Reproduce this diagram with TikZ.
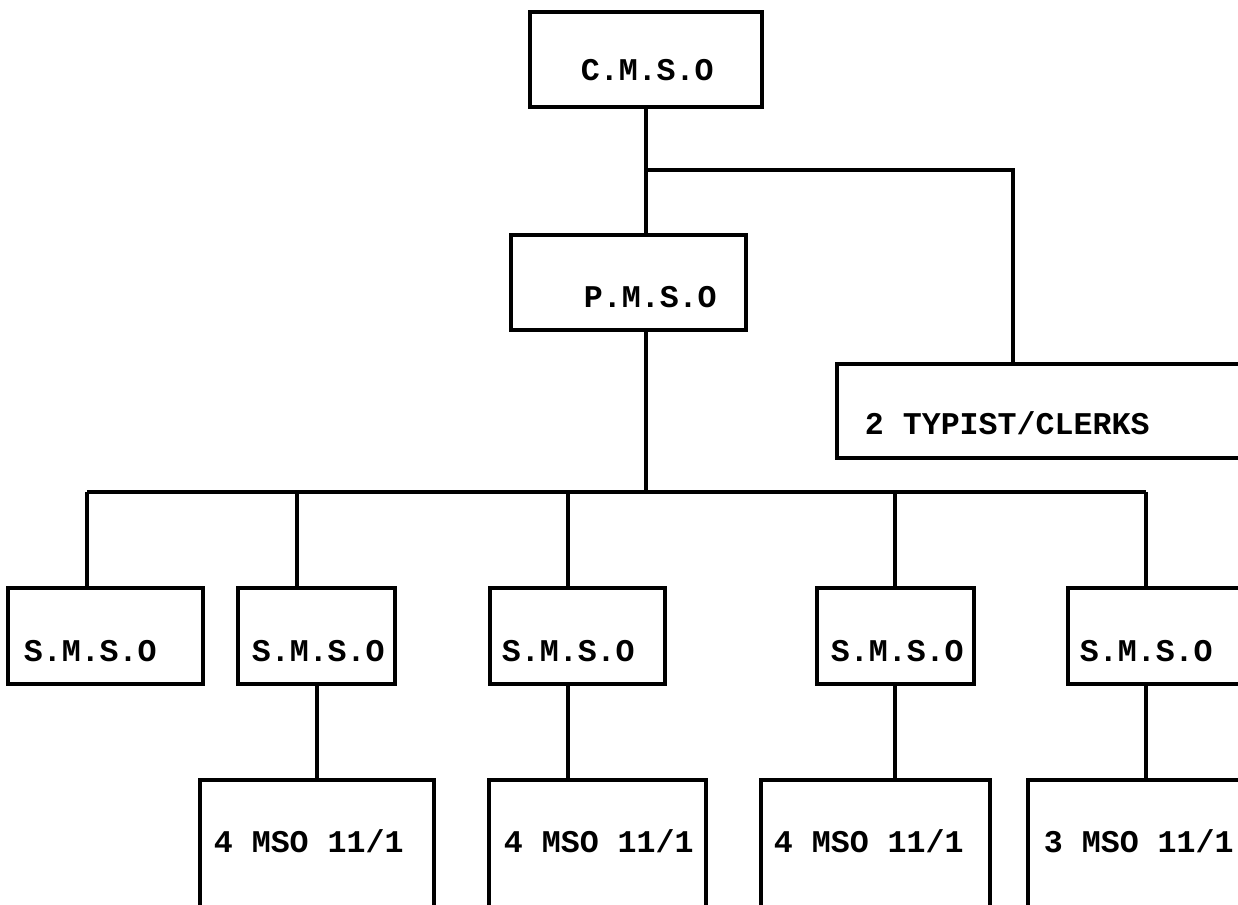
\documentclass[tikz,border=0pt]{standalone}
\usepackage{fontspec}
\setmonofont{Liberation Mono}
\usepackage{tikz}
\usetikzlibrary{fit}
\usetikzlibrary{calc}

\begin{document}
\begin{tikzpicture}[x=0.02cm, y=-0.02cm, line width=2.1pt,
    post/.style={draw, rectangle, inner sep=0pt, outer sep=0pt},
    lbl/.style={anchor=base west, inner sep=0pt, font=\ttfamily\bfseries\fontsize{18}{20}\selectfont}]
    \useasboundingbox (0,0) rectangle (1238,905);
    \clip (0,0) rectangle (1238,905);
    % top levels
    \node (cmso) [post, fit={(530,12) (762,107)}] {};
    \node (pmso) [post, fit={(511,235) (746,330)}] {};
    \node (typist) [post, fit={(837,364) (1260,458)}] {};
    \node (tcmso) [lbl] at (579,81) {C.M.S.O};
    \node (tpmso) [lbl] at (582,308) {P.M.S.O};
    \node (ttypist) [lbl] at (863,435) {2 TYPIST/CLERKS};
    % senior officers
    \foreach \n/\a/\b/\t in {1/8/203/22,2/238/395/250,3/490/665/500,4/817/974/829,5/1068/1260/1078}
    {
        \node (smso\n) [post, fit={(\a,588) (\b,684)}] {};
        \node (tsmso\n) [lbl] at (\t,661) {S.M.S.O};
    }
    % bottom row
    \foreach \n/\a/\b/\t/\k in {2/200/434/212/4,3/489/706/502/4,4/761/990/772/4,5/1028/1260/1042/3}
    {
        \node (mso\n) [post, fit={(\a,780) (\b,930)}] {};
        \node (tmso\n) [lbl] at (\t,852) {\k\ MSO 11/1};
    }
    % connectors
    \coordinate (split) at (646,170);
    \coordinate (tyx) at (1013,0);
    \draw (cmso.south -| split) -- (pmso.north -| split);
    \draw (split) -| (tyx |- typist.north);
    \coordinate (bus) at (646,492);
    \draw (pmso.south -| bus) -- (bus);
    \foreach \n/\x in {1/87,2/297,3/568,4/895,5/1146}
    {
        \coordinate (d\n) at (\x,492);
        \draw (d\n) -- (d\n |- smso\n.north);
    }
    \draw (d1) -- (d5);
    \foreach \n/\x in {2/317,3/568,4/895,5/1146}
    {
        \coordinate (u\n) at (\x,0);
        \draw (u\n |- smso\n.south) -- (u\n |- mso\n.north);
    }
\end{tikzpicture}
\end{document}
